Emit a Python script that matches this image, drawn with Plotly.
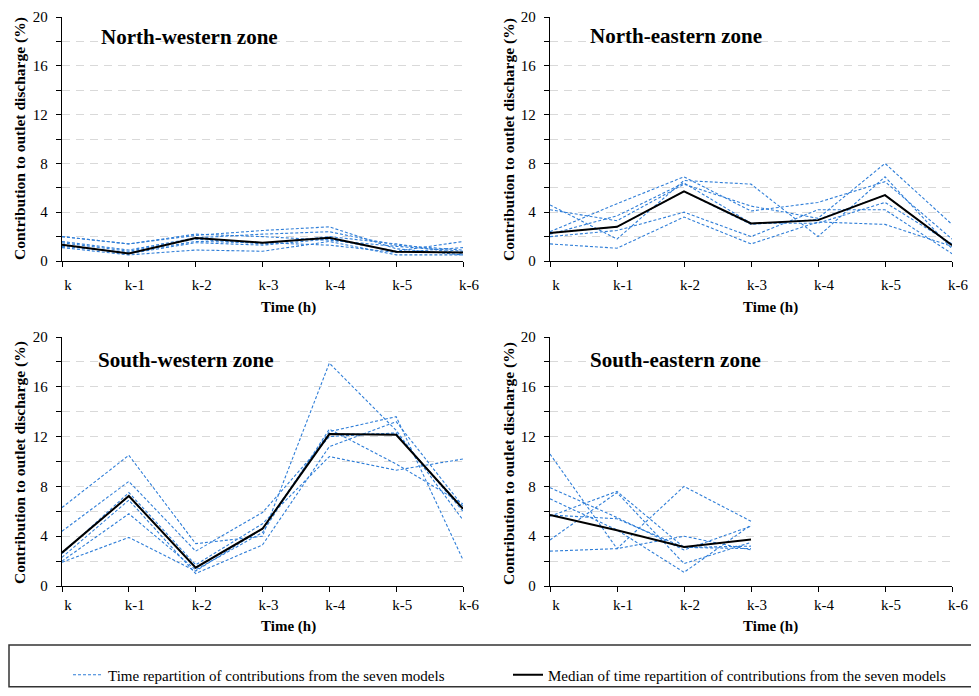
import plotly.graph_objects as go

# The page body keeps its default 8px margin, so the figure is drawn 16px
# smaller than the 979x696 window and target positions are shifted by 8px.
OFF = 8
W, H = 979 - 2 * OFF, 696 - 2 * OFF

time_labels = ["k", "k-1", "k-2", "k-3", "k-4", "k-5", "k-6"]

# North-western zone
nw_models = [
    [2.0, 1.4, 2.2, 2.0, 1.7, 1.2, 0.8],
    [2.0, 1.4, 2.1, 2.5, 2.8, 1.0, 0.5],
    [1.6, 0.9, 1.9, 2.2, 2.4, 1.3, 0.9],
    [1.3, 0.6, 1.5, 1.3, 1.8, 0.8, 1.6],
    [1.1, 0.5, 0.9, 0.8, 1.6, 0.5, 0.5],
    [1.2, 0.7, 1.6, 1.5, 1.3, 0.7, 1.1],
    [1.5, 0.8, 1.8, 1.4, 2.0, 1.4, 0.6],
]
nw_median = [1.34, 0.62, 1.88, 1.5, 1.9, 0.75, 0.7]

# North-eastern zone
ne_models = [
    [4.6, 1.8, 6.6, 6.3, 2.0, 6.9, 1.0],
    [4.2, 3.3, 6.3, 4.5, 3.5, 8.0, 3.0],
    [2.4, 4.7, 6.9, 4.1, 4.8, 6.5, 1.8],
    [2.2, 3.7, 6.4, 3.1, 3.1, 4.8, 1.4],
    [2.0, 2.5, 4.0, 2.0, 4.2, 4.2, 0.6],
    [1.4, 1.05, 3.6, 1.4, 3.2, 3.0, 1.2],
    [2.3, 2.8, 5.7, 3.0, 3.4, 5.4, 1.3],
]
ne_median = [2.3, 2.8, 5.7, 3.08, 3.35, 5.4, 1.3]

# South-western zone
sw_models = [
    [6.3, 10.5, 3.4, 4.0, 17.9, 12.5, 5.3],
    [4.4, 8.4, 2.8, 5.9, 12.0, 12.3, 6.0],
    [2.6, 7.5, 1.7, 5.0, 10.4, 9.3, 10.2],
    [2.3, 6.9, 1.0, 3.3, 11.2, 13.2, 6.4],
    [2.0, 5.8, 1.3, 4.3, 12.6, 9.8, 6.6],
    [1.9, 3.9, 1.2, 4.6, 12.4, 13.6, 2.1],
    [2.7, 7.2, 1.5, 4.6, 12.2, 12.2, 6.2],
]
sw_median = [2.68, 7.23, 1.47, 4.6, 12.2, 12.15, 6.2]

# South-eastern zone
se_models = [
    [10.6, 3.0, 8.0, 5.2],
    [7.9, 5.5, 2.9, 4.8],
    [7.0, 4.5, 1.1, 4.9],
    [5.6, 7.6, 3.1, 3.0],
    [3.7, 7.5, 1.8, 3.5],
    [2.8, 3.0, 4.0, 2.9],
    [5.7, 5.4, 3.1, 3.2],
]
se_median = [5.7, 4.48, 3.14, 3.73]

zones = [
    ("North-western zone", nw_models, nw_median),
    ("North-eastern zone", ne_models, ne_median),
    ("South-western zone", sw_models, sw_median),
    ("South-eastern zone", se_models, se_median),
]

FONT = "Liberation Serif"
BLUE = "#2F7ED8"
GRID = "#D9D9D9"

def px(x):
    return (x - OFF) / W

def py(y):
    return 1 - (y - OFF) / H

# plot areas in window pixels: (x0, x1, ytop, ybottom)
areas = [
    (62, 463, 17, 261),
    (550, 952, 17, 261),
    (62, 463, 337, 586),
    (550, 952, 337, 586),
]
title_pos = [(99, 37), (588, 36), (96, 360), (588, 360)]
ytitle_pos = [(20, 139), (509, 139), (20, 463), (509, 463)]
xtitle_pos = [(288, 307), (770, 307), (288, 626), (770, 626)]

fig = go.Figure()
annotations = []
layout = {}

for i, (name, models, median) in enumerate(zones):
    n = i + 1
    xa = "x" if n == 1 else f"x{n}"
    ya = "y" if n == 1 else f"y{n}"
    for j, m in enumerate(models):
        fig.add_trace(go.Scatter(
            x=list(range(len(m))), y=m, mode="lines",
            line=dict(color=BLUE, width=1.1, dash="3px,2px"),
            name="Time repartition of contributions from the seven models",
            legendgroup="models",
            showlegend=(i == 0 and j == 0),
            xaxis=xa, yaxis=ya, hoverinfo="skip",
        ))
    fig.add_trace(go.Scatter(
        x=list(range(len(median))), y=median, mode="lines",
        line=dict(color="black", width=2),
        name="Median of time repartition of contributions from the seven models",
        legendgroup="median",
        showlegend=(i == 0),
        xaxis=xa, yaxis=ya, hoverinfo="skip",
    ))

    x0, x1, yt, yb = areas[i]
    top = i < 2
    layout["xaxis" if n == 1 else f"xaxis{n}"] = dict(
        domain=[px(x0), px(x1)], anchor=ya,
        range=[0, 6], tickvals=list(range(7)), ticktext=time_labels,
        showline=True, linecolor="black", linewidth=1.3,
        ticks="outside", ticklen=5, tickcolor="black", tickwidth=1.2,
        showgrid=False, zeroline=False,
        tickfont=dict(family=FONT, size=15, color="black"),
        ticklabelstandoff=5 if top else 0,
        ticklabelshift=6,
    )
    layout["yaxis" if n == 1 else f"yaxis{n}"] = dict(
        domain=[py(yb), py(yt)], anchor=xa,
        range=[0, 20], tickvals=[0, 4, 8, 12, 16, 20],
        showline=True, linecolor="black", linewidth=1.3,
        ticks="outside", ticklen=5, tickcolor="black", tickwidth=1.2,
        showgrid=True, gridcolor=GRID, gridwidth=1, griddash="8px,6px",
        zeroline=False,
        minor=dict(dtick=2, tick0=0, ticks="outside", ticklen=5, tickcolor="black",
                   tickwidth=1.2, showgrid=True, gridcolor=GRID, gridwidth=1,
                   griddash="8px,6px"),
        tickfont=dict(family=FONT, size=15, color="black"),
        ticklabelstandoff=5,
    )

    tx, ty = title_pos[i]
    annotations.append(dict(
        text=f"<b>{name}</b>", x=px(tx), y=py(ty), xref="paper", yref="paper",
        xanchor="left", yanchor="middle", showarrow=False,
        font=dict(family=FONT, size=21, color="black"),
    ))
    ax, ay = ytitle_pos[i]
    annotations.append(dict(
        text="<b>Contribution to outlet discharge (%)</b>", x=px(ax), y=py(ay),
        xref="paper", yref="paper", xanchor="center", yanchor="middle",
        textangle=-90, showarrow=False,
        font=dict(family=FONT, size=15.5, color="black"),
    ))
    bx, by = xtitle_pos[i]
    annotations.append(dict(
        text="<b>Time (h)</b>", x=px(bx), y=py(by), xref="paper", yref="paper",
        xanchor="center", yanchor="middle", showarrow=False,
        font=dict(family=FONT, size=15, color="black"),
    ))

fig.update_layout(
    width=W, height=H,
    margin=dict(l=0, r=0, t=0, b=0, autoexpand=False),
    paper_bgcolor="white", plot_bgcolor="white",
    showlegend=True,
    legend=dict(
        orientation="h", x=px(68), y=py(675), xanchor="left", yanchor="middle",
        bgcolor="rgba(0,0,0,0)", borderwidth=0,
        font=dict(family=FONT, size=15, color="black"),
        entrywidth=395, entrywidthmode="pixels", traceorder="normal",
    ),
    annotations=annotations,
    shapes=[dict(
        type="rect", xref="paper", yref="paper",
        x0=px(9), x1=px(1000), y0=0.002, y1=py(645),
        line=dict(color="#333333", width=1.5), fillcolor="rgba(0,0,0,0)",
    )],
    **layout,
)

fig.write_html("out.html", config={"displayModeBar": False})
